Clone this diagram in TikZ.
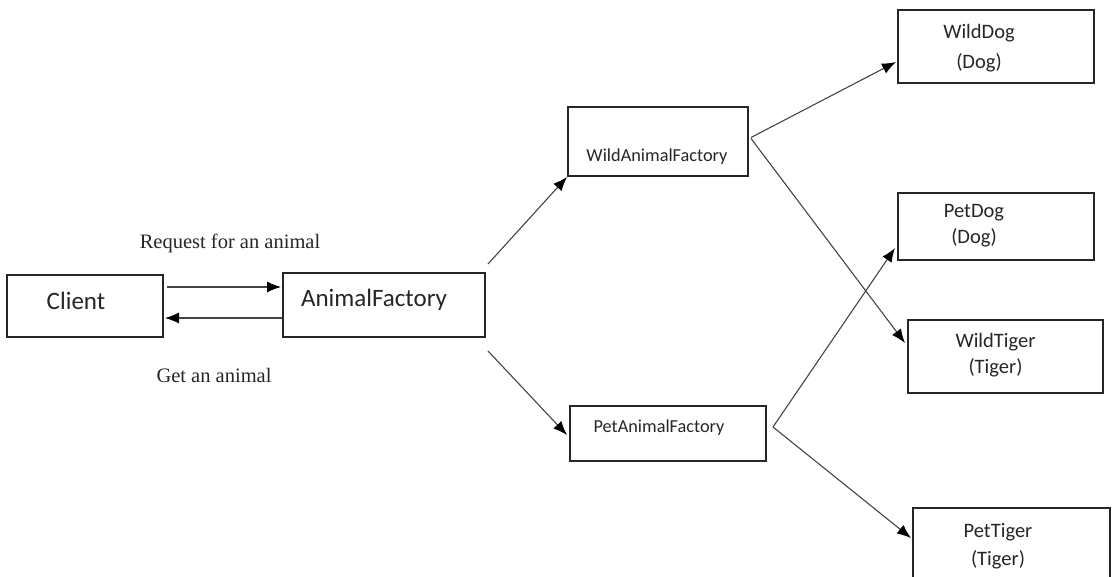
\documentclass[tikz,border=0pt]{standalone}
\usepackage{fontspec}
\setmainfont{Liberation Serif}
\newfontfamily\carl{Carlito}
\usetikzlibrary{arrows.meta,calc}
\definecolor{ink}{HTML}{262626}
\definecolor{lineink}{HTML}{444444}
\tikzset{
  box/.style={draw=ink,line width=2pt,rectangle,inner sep=0pt},
  big/.style={text=ink,font=\carl\fontsize{25}{30}\selectfont},
  mid/.style={text=ink,font=\carl\fontsize{18.3}{22}\selectfont},
  ani/.style={text=ink,font=\carl\fontsize{20.5}{26}\selectfont,align=center},
  serif/.style={text=ink,font=\fontsize{20.5}{24}\selectfont},
  conn/.style={draw=lineink,line width=1.1pt,-{Latex[length=14pt,width=11pt,color=black]}},
}
\begin{document}
\begin{tikzpicture}[x=1pt,y=-1pt]
\useasboundingbox (0,0) rectangle (1114,577);
\clip (0,0) rectangle (1114,577);
% boxes
\node[box,minimum width=156pt,minimum height=62pt] (client) at (85,306) {};
\node[box,minimum width=202pt,minimum height=64pt] (af) at (384,305) {};
\node[box,minimum width=180pt,minimum height=69pt] (waf) at (658,141.5) {};
\node[box,minimum width=196pt,minimum height=55pt] (paf) at (668,433.5) {};
\node[box,minimum width=196pt,minimum height=73pt] (wd) at (996,46.5) {};
\node[box,minimum width=196pt,minimum height=67pt] (pd) at (996,226.5) {};
\node[box,minimum width=195pt,minimum height=73pt] (wt) at (1005.5,356.5) {};
\node[box,minimum width=197pt,minimum height=90pt] (pt) at (1011.5,553) {};
% texts
\node[big] (clientt) at (76,301) {Client};
\node[big] (aft) at (374,300) {AnimalFactory};
\node[mid] (waft) at (657,157) {WildAnimalFactory};
\node[mid] (paft) at (659,428) {PetAnimalFactory};
\node[ani,font=\carl\fontsize{20.5}{30}\selectfont] (wdt) at (979,48) {WildDog\\(Dog)};
\node[ani] (pdt) at (974,226) {PetDog\\(Dog)};
\node[ani] (wtt) at (995.5,355) {WildTiger\\(Tiger)};
\node[ani,font=\carl\fontsize{20.5}{28}\selectfont] (ptt) at (998,546) {PetTiger\\(Tiger)};
\node[serif] (req) at (230,243) {Request for an animal};
\node[serif] (get) at (214,375) {Get an animal};
% connectors
\draw[conn] ($(client.east)+(3,-19)$) -- ($(af.west)+(-1,-18)$);
\draw[conn] ($(af.west)+(0,13)$) -- ($(client.east)+(1,12)$);
\draw[conn] ($(af.north east)+(2,-8)$) -- (waf.south west);
\draw[conn] ($(af.south east)+(2,13)$) -- ($(paf.west)+(-2,1.5)$);
\draw[conn] ($(waf.east)+(2,-4)$) -- ($(wd.west)+(-1,15.5)$);
\draw[conn] ($(waf.east)+(2,-3)$) -- ($(wt.west)+(-2,-13.5)$);
\draw[conn] ($(paf.east)+(6,-6.5)$) -- ($(pd.west)+(-2,21.5)$);
\draw[conn] ($(paf.east)+(6,-6.5)$) -- ($(pt.west)+(-1,-15)$);
\end{tikzpicture}
\end{document}
